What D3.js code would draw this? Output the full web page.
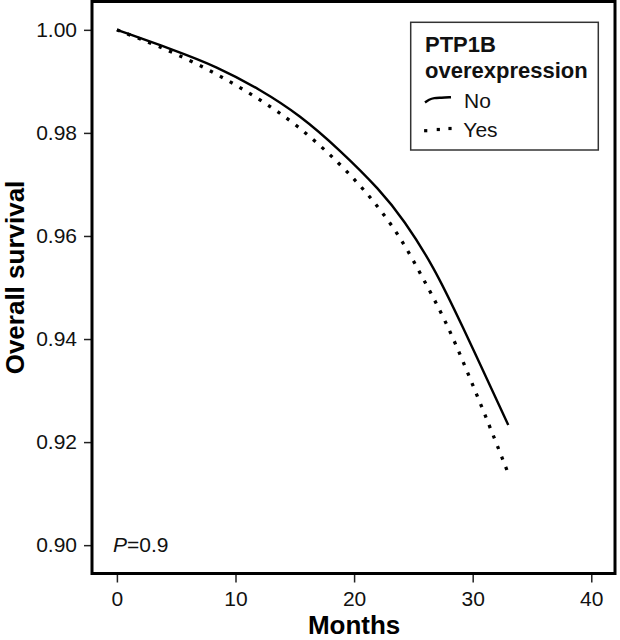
<!DOCTYPE html>
<html>
<head>
<meta charset="utf-8">
<script src="https://cdn.jsdelivr.net/npm/d3@7/dist/d3.min.js"></script>
<style>
  html, body { margin: 0; padding: 0; background: #fff; }
  svg { display: block; font-family: "Liberation Sans", Arial, sans-serif; }
</style>
</head>
<body>
<svg id="chart" width="620" height="640"></svg>
<script>
// ---- data ----
const xTicks = [0, 10, 20, 30, 40];
const yTicks = [0.90, 0.92, 0.94, 0.96, 0.98, 1.00];
const seriesNames = ["No", "Yes"];

const monthsNo = [0, 4.8, 8.4, 12.1, 15.4, 18.8, 22.2, 24.2, 26.7, 28.9, 33];
const survivalNo = [1.000, 0.9961, 0.9929, 0.9884, 0.9835, 0.9767, 0.9689, 0.9631, 0.9541, 0.9437, 0.9233];

const monthsYes = [0, 2.0, 4.8, 8.4, 11.8, 15.2, 18.8, 21.5, 23.9, 25.8, 27.7, 29.6, 31.5, 33];
const survivalYes = [1.000, 0.9982, 0.9956, 0.9915, 0.9869, 0.9816, 0.9741, 0.9673, 0.9599, 0.9518, 0.9437, 0.9334, 0.9227, 0.9139];

const legendTitle = ["PTP1B", "overexpression"];
const xTitle = "Months";
const yTitle = "Overall survival";
const pLabel = "=0.9";

// ---- layout ----
const svg = d3.select("#chart");
const x = d3.scaleLinear().domain([-2.1, 42]).range([92, 615]);
const y = d3.scaleLinear().domain([0.8945, 1.0055]).range([573.5, 1.5]);

// axes (ticks outside the frame)
const gy = svg.append("g").attr("transform", `translate(${x.range()[0]},0)`)
  .call(d3.axisLeft(y).tickValues(yTicks).tickFormat(d3.format(".2f")).tickSize(8).tickPadding(7));
gy.select(".domain").remove();
gy.selectAll(".tick line").attr("stroke", "#222").attr("stroke-width", 1.5);
gy.selectAll(".tick text").attr("font-size", 21).attr("fill", "#111")
  .attr("font-family", "Liberation Sans, Arial, sans-serif");

const gx = svg.append("g").attr("transform", `translate(0,${y.range()[0]})`)
  .call(d3.axisBottom(x).tickValues(xTicks).tickFormat(d3.format("d")).tickSize(9).tickPadding(9));
gx.select(".domain").remove();
gx.selectAll(".tick line").attr("stroke", "#222").attr("stroke-width", 1.5);
gx.selectAll(".tick text").attr("font-size", 21).attr("fill", "#111")
  .attr("font-family", "Liberation Sans, Arial, sans-serif");

// frame
svg.append("rect")
  .attr("x", x.range()[0]).attr("y", y.range()[1])
  .attr("width", x.range()[1] - x.range()[0])
  .attr("height", y.range()[0] - y.range()[1])
  .attr("fill", "none").attr("stroke", "#000").attr("stroke-width", 3);

// curves
const line = d3.line().x(d => x(d[0])).y(d => y(d[1])).curve(d3.curveBasis);
const dataNo = monthsNo.map((m, i) => [m, survivalNo[i]]);
const dataYes = monthsYes.map((m, i) => [m, survivalYes[i]]);

svg.append("path").datum(dataNo).attr("d", line)
  .attr("fill", "none").attr("stroke", "#000").attr("stroke-width", 2.4);
svg.append("path").datum(dataYes).attr("d", line)
  .attr("fill", "none").attr("stroke", "#000").attr("stroke-width", 3.3)
  .attr("stroke-dasharray", "3.3,8");

// axis titles
svg.append("text").attr("x", x(20)).attr("y", 634).attr("text-anchor", "middle")
  .attr("font-size", 26).attr("font-weight", "bold").attr("fill", "#000").text(xTitle);
svg.append("text").attr("transform", `translate(24,${(y(0.90) + y(1.00)) / 2 - 10}) rotate(-90)`)
  .attr("text-anchor", "middle")
  .attr("font-size", 26).attr("font-weight", "bold").attr("fill", "#000").text(yTitle);

// P value
const pt = svg.append("text").attr("x", 113).attr("y", 552).attr("font-size", 21).attr("fill", "#111");
pt.append("tspan").attr("font-style", "italic").text("P");
pt.append("tspan").text(pLabel);

// legend
const lg = svg.append("g");
lg.append("rect").attr("x", 410.7).attr("y", 22.3).attr("width", 187.6).attr("height", 127.7)
  .attr("fill", "#fff").attr("stroke", "#333").attr("stroke-width", 1.5);
lg.append("text").attr("x", 425).attr("y", 51.7).attr("font-size", 22).attr("font-weight", "bold")
  .attr("fill", "#111").text(legendTitle[0]);
lg.append("text").attr("x", 425).attr("y", 78.3).attr("font-size", 22).attr("font-weight", "bold")
  .attr("fill", "#111").text(legendTitle[1]);
// solid sample (slightly wavy, as in the reference)
lg.append("path")
  .attr("d", d3.line().curve(d3.curveBasis)([[425, 102.5], [429, 99.5], [434, 97.8], [441, 97.8], [451, 97.2]]))
  .attr("fill", "none").attr("stroke", "#000").attr("stroke-width", 2.4);
lg.append("text").attr("x", 464).attr("y", 108.3).attr("font-size", 21).attr("fill", "#111").text(seriesNames[0]);
// dotted sample
[[425.7, 130.7], [438.3, 129.5], [450, 128.5]].forEach(p => {
  lg.append("rect").attr("x", p[0] - 1.6).attr("y", p[1] - 1.6).attr("width", 3.2).attr("height", 3.2).attr("fill", "#000");
});
lg.append("text").attr("x", 463.3).attr("y", 136.7).attr("font-size", 21).attr("fill", "#111").text(seriesNames[1]);
</script>
</body>
</html>
